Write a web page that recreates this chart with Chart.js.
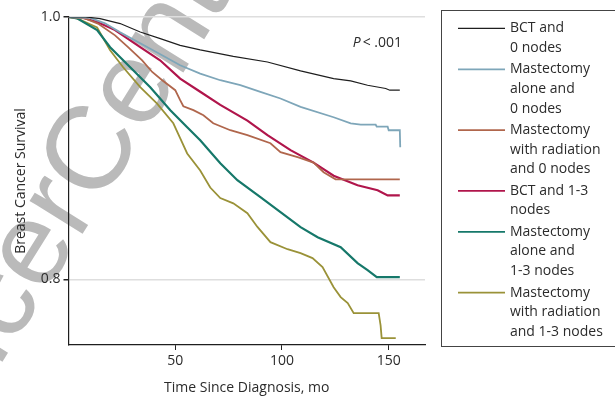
<!DOCTYPE html>
<html>
<head>
<meta charset="utf-8">
<script src="https://cdn.jsdelivr.net/npm/chart.js@4/dist/chart.umd.min.js"></script>
<style>
  html, body { margin: 0; padding: 0; background: #fff; }
  #wrap { width: 615px; height: 398px; }
</style>
</head>
<body>
<div id="wrap"><canvas id="km" width="615" height="398"></canvas></div>
<script>
// survival curves (time in months, survival fraction)
const bct0Time = [0, 8, 14.8, 24.2, 33.6, 43.0, 52.3, 61.7, 77.2, 93.2, 108.7, 124.2, 132.2, 140.1, 148.6, 150.5, 155.2]
const bct0Surv = [1.0, 1.0, 0.9988, 0.995, 0.9886, 0.9835, 0.9784, 0.975, 0.970, 0.9657, 0.9589, 0.953, 0.9513, 0.948, 0.9455, 0.9442, 0.9442]

const mast0Time = [0, 10.1, 17.1, 24.2, 33.6, 43.0, 52.3, 61.7, 71.1, 80.5, 89.9, 99.3, 108.7, 124.2, 132.2, 136.9, 143.9, 144.4, 149.5, 150.0, 155.2, 155.4]
const mast0Surv = [1.0, 0.9994, 0.9952, 0.9883, 0.980, 0.9716, 0.9632, 0.9569, 0.9518, 0.948, 0.9429, 0.9379, 0.9315, 0.9236, 0.919, 0.9179, 0.9179, 0.9164, 0.9164, 0.9137, 0.9137, 0.9008]

const mastRad0Time = [0, 7.7, 13.8, 21.8, 27.9, 34.5, 39.2, 43.9, 50.0, 52.3, 53.8, 58.5, 63.2, 67.8, 75.8, 83.8, 94.6, 99.3, 107.7, 114.8, 119.5, 125.1, 155.2]
const mastRad0Surv = [1.0, 0.999, 0.995, 0.986, 0.9771, 0.967, 0.9581, 0.9518, 0.9442, 0.9366, 0.932, 0.929, 0.9251, 0.919, 0.9137, 0.910, 0.9038, 0.897, 0.893, 0.889, 0.8817, 0.8763, 0.8763]

const bct13Time = [0, 5.4, 13.8, 21.8, 33.6, 42.9, 52.3, 61.7, 71.1, 83.8, 93.2, 104.0, 114.8, 124.2, 135.4, 144.8, 149.5, 155.2]
const bct13Surv = [1.0, 1.0, 0.996, 0.990, 0.977, 0.967, 0.953, 0.943, 0.933, 0.921, 0.910, 0.8985, 0.889, 0.879, 0.8718, 0.868, 0.864, 0.864]

const mast13Time = [0, 4.0, 13.4, 19.5, 28.9, 38.3, 47.7, 55.6, 61.7, 71.1, 79.1, 89.9, 99.3, 108.7, 116.7, 127.5, 135.4, 140.1, 144.4, 155.2]
const mast13Surv = [1.0, 0.999, 0.990, 0.977, 0.9617, 0.9465, 0.929, 0.916, 0.906, 0.8886, 0.8756, 0.8627, 0.8513, 0.8398, 0.8322, 0.8246, 0.8124, 0.807, 0.8018, 0.8018]

const mastRad13Time = [0, 4.0, 13.4, 19.5, 25.6, 33.6, 41.5, 49.1, 52.3, 55.6, 61.7, 66.4, 71.1, 77.2, 83.8, 88.5, 94.6, 102.6, 108.7, 114.3, 119.0, 124.2, 127.5, 130.8, 133.6, 145.3, 146.2, 146.7, 153.3]
const mastRad13Surv = [1.0, 0.999, 0.992, 0.9746, 0.9617, 0.9465, 0.934, 0.919, 0.9076, 0.896, 0.883, 0.870, 0.862, 0.858, 0.8505, 0.840, 0.8284, 0.823, 0.820, 0.8162, 0.8094, 0.794, 0.7865, 0.782, 0.7743, 0.7743, 0.765, 0.7553, 0.7553]

const seriesLabels = [
  ['BCT and', '0 nodes'],
  ['Mastectomy', 'alone and', '0 nodes'],
  ['Mastectomy', 'with radiation', 'and 0 nodes'],
  ['BCT and 1-3', 'nodes'],
  ['Mastectomy', 'alone and', '1-3 nodes'],
  ['Mastectomy', 'with radiation', 'and 1-3 nodes'],
]
const seriesTimes = [bct0Time, mast0Time, mastRad0Time, bct13Time, mast13Time, mastRad13Time]
const seriesSurv = [bct0Surv, mast0Surv, mastRad0Surv, bct13Surv, mast13Surv, mastRad13Surv]
const seriesColors = ['#1e1e1e', '#7ea6b9', '#b0664c', '#b0154b', '#16786a', '#9a9238']
const seriesWidths = [1.2, 1.8, 1.8, 2.2, 2.2, 1.8]

const xTicks = [50, 100, 150]
const yTicks = [0.8, 1.0]
const pValue = '< .001'

const FONT = '"Open Sans", "Noto Sans", sans-serif'
const TEXT = '#2b2b2b'

const toPoints = (xs, ys) => xs.map((x, i) => ({ x, y: ys[i] }))

// big grey stamp behind the plot, anchored on the middle of its second "C"
const watermark = {
  id: 'watermark',
  beforeDraw(chart) {
    const { ctx } = chart
    ctx.save()
    ctx.font = '118px "Liberation Sans", Arial, sans-serif'
    ctx.fillStyle = '#bababa'
    ctx.textBaseline = 'middle'
    const pre = ctx.measureText('Cancer').width
    const c = ctx.measureText('C').width
    ctx.translate(94, 154)
    ctx.rotate(-58 * Math.PI / 180)
    ctx.fillText('CancerCenter', -pre - c / 2, 0)
    ctx.restore()
  },
}

const extras = {
  id: 'extras',
  afterDraw(chart) {
    const { ctx } = chart
    ctx.save()
    // P value
    ctx.fillStyle = TEXT
    ctx.textBaseline = 'middle'
    ctx.font = '14px ' + FONT
    const restW = ctx.measureText(pValue).width
    ctx.textAlign = 'right'
    ctx.fillText(pValue, 402, 43)
    ctx.font = 'italic 14px ' + FONT
    ctx.fillText('P', 402 - restW - 2, 43)

    // legend box
    ctx.strokeStyle = '#444'
    ctx.lineWidth = 1
    ctx.strokeRect(441.5, 10.5, 200, 336)
    ctx.font = '14px ' + FONT
    ctx.textAlign = 'left'
    let y = 28.3
    seriesLabels.forEach((lines, i) => {
      ctx.strokeStyle = seriesColors[i]
      ctx.lineWidth = Math.min(seriesWidths[i], 1.8)
      ctx.beginPath()
      ctx.moveTo(458, y)
      ctx.lineTo(505, y)
      ctx.stroke()
      lines.forEach((ln, j) => {
        ctx.fillText(ln, 510, y + j * 19.6)
      })
      y += (lines.length - 1) * 19.6 + 21.5
    })
    ctx.restore()
  },
}

new Chart(document.getElementById('km'), {
  type: 'line',
  data: {
    datasets: seriesLabels.map((lab, i) => ({
      label: lab.join(' '),
      data: toPoints(seriesTimes[i], seriesSurv[i]),
      borderColor: seriesColors[i],
      borderWidth: seriesWidths[i],
      pointRadius: 0,
      tension: 0,
      fill: false,
    })),
  },
  options: {
    responsive: false,
    animation: false,
    devicePixelRatio: 1,
    layout: { padding: { top: 17, right: 190, bottom: 0, left: 0 } },
    plugins: { legend: { display: false }, tooltip: { enabled: false } },
    scales: {
      x: {
        type: 'linear',
        min: 0,
        max: 167,
        afterBuildTicks: (s) => { s.ticks = xTicks.map(v => ({ value: v })) },
        afterFit: (s) => { s.height = 53 },
        grid: { display: true, drawOnChartArea: false, drawTicks: true, tickLength: 5, tickColor: '#222' },
        border: { display: true, color: '#1e1e1e', width: 1.2 },
        ticks: { color: TEXT, font: { family: FONT, size: 14 }, padding: 3, maxRotation: 0 },
        title: { display: true, text: 'Time Since Diagnosis, mo', color: TEXT, font: { family: FONT, size: 14 }, padding: { top: 0, bottom: 1.6 } },
      },
      y: {
        min: 0.75,
        max: 1.0,
        afterBuildTicks: (s) => { s.ticks = yTicks.map(v => ({ value: v })) },
        afterFit: (s) => { s.width = 68.5 },
        grid: { color: '#dedede', lineWidth: 1.5, tickLength: 5, tickColor: '#222' },
        border: { display: true, color: '#1e1e1e', width: 1.2 },
        ticks: { color: TEXT, font: { family: FONT, size: 14 }, padding: 3, callback: (v) => v.toFixed(1) },
        title: { display: true, text: 'Breast Cancer Survival', color: TEXT, font: { family: FONT, size: 14 }, padding: { top: 12.6, bottom: 0 } },
      },
    },
  },
  plugins: [watermark, extras],
})
</script>
</body>
</html>
